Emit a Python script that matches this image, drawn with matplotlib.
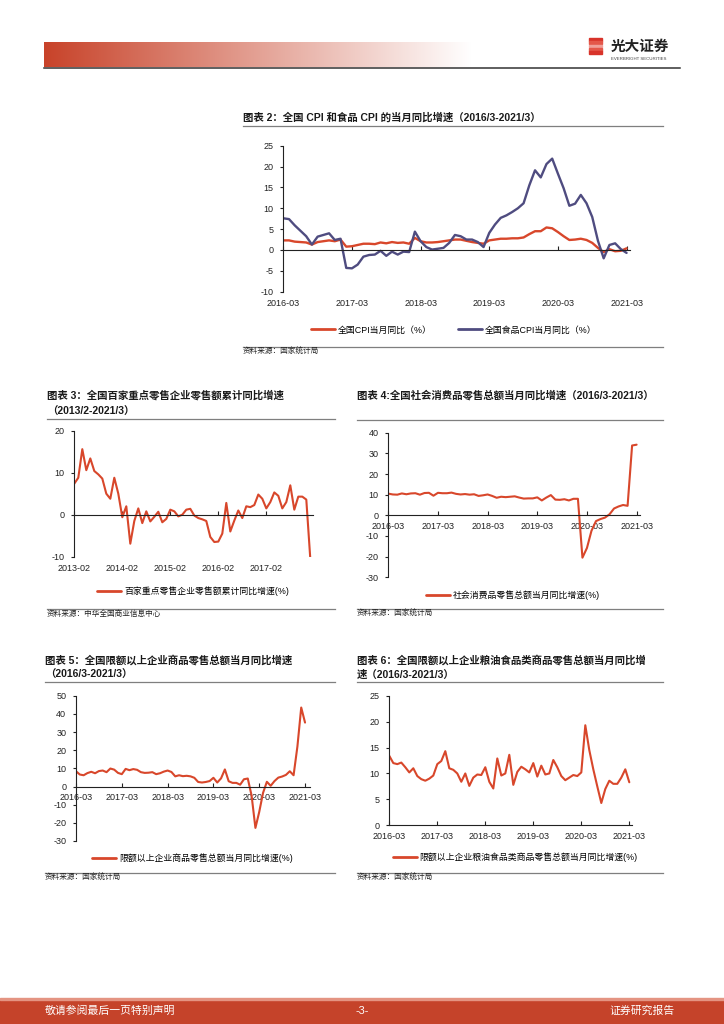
import numpy as np
import matplotlib.pyplot as plt
from matplotlib.patches import Rectangle

plt.rcParams['font.family'] = ['Liberation Sans', 'Noto Sans CJK SC']
plt.rcParams['axes.unicode_minus'] = False

W, H = 724, 1024
RED = '#D8472B'
PURPLE = '#4F4C80'
BAND = '#C5432A'

# ---- data ----
year_labels = ['2016-03', '2017-03', '2018-03', '2019-03', '2020-03', '2021-03']
labels_2013 = ['2013-02', '2014-02', '2015-02', '2016-02', '2017-02']

# 图表2: 2016/3-2021/3 monthly
cpi = [2.3, 2.3, 2.0, 1.9, 1.8, 1.3, 1.9, 2.1, 2.3, 2.1,
       2.5, 0.8, 0.9, 1.2, 1.5, 1.5, 1.4, 1.8, 1.6, 1.9, 1.7, 1.8,
       1.5, 2.9, 2.1, 1.8, 1.8, 1.9, 2.1, 2.3, 2.5, 2.5, 2.2, 1.9,
       1.7, 1.5, 2.3, 2.5, 2.7, 2.7, 2.8, 2.8, 3.0, 3.8, 4.5, 4.5,
       5.4, 5.2, 4.3, 3.3, 2.4, 2.5, 2.7, 2.4, 1.7, 0.5, -0.5, 0.2,
       -0.3, -0.2, 0.4]
food_cpi = [7.6, 7.4, 5.9, 4.6, 3.3, 1.3, 3.2, 3.6, 4.0, 2.4,
            2.7, -4.3, -4.4, -3.5, -1.6, -1.2, -1.1, -0.2, -1.4, -0.4, -1.1, -0.4,
            -0.5, 4.4, 2.1, 0.7, 0.1, 0.3, 0.5, 1.7, 3.6, 3.3, 2.5, 2.5,
            1.9, 0.7, 4.1, 6.1, 7.7, 8.3, 9.1, 10.0, 11.2, 15.5, 19.1, 17.4,
            20.6, 21.9, 18.3, 14.8, 10.6, 11.1, 13.2, 11.2, 7.9, 2.2, -2.0, 1.2,
            1.6, 0.2, -0.7]

# 图表3: 2013/2 起
top100 = [7.4, 8.8, 15.6, 10.6, 13.4, 10.4, 9.6, 8.6, 5.0, 3.8,
          8.8, 5.0, -0.6, 2.0, -6.9, -1.5, 1.5, -2.0, 0.8, -1.6,
          -0.5, 0.7, -1.8, -1.0, 1.2, 0.8, -0.4, 0.0, 1.2, 1.4,
          -0.2, -0.8, -1.1, -1.5, -5.3, -6.5, -6.4, -4.5, 2.8, -4.0,
          -1.4, 1.0, -0.8, 2.0, 1.8, 2.3, 4.8, 3.8, 1.5, 3.0,
          5.3, 4.5, 1.5, 3.0, 7.0, 1.2, 4.3, 4.3, 3.6, -10.5]

# 图表4: 社零当月同比 (no January)
retail = [10.5, 10.1, 10.0, 10.6, 10.2, 10.6, 10.7, 10.0, 10.8, 10.9,
          9.5, 10.9, 10.7, 10.7, 11.0, 10.4, 10.1, 10.3, 10.0, 10.2, 9.4,
          9.7, 10.1, 9.4, 8.5, 9.0, 8.8, 9.0, 9.2, 8.6, 8.1, 8.2,
          8.2, 8.7, 7.2, 8.6, 9.8, 7.6, 7.5, 7.8, 7.2, 8.0, 8.0,
          -20.5, -15.8, -7.5, -2.8, -1.8, -1.1, 0.5, 3.3, 4.3, 5.0, 4.6,
          33.8, 34.2]

# 图表5: 限额以上企业商品零售总额
above = [8.4, 6.6, 6.2, 7.4, 8.1, 7.3, 8.5, 8.8, 7.9, 9.9,
         9.3, 7.5, 6.8, 9.7, 9.0, 9.6, 9.2, 7.9, 7.5, 7.6,
         7.9, 6.8, 7.3, 8.2, 8.8, 8.0, 5.6, 6.2, 5.7, 5.9,
         5.6, 4.8, 2.5, 2.2, 2.5, 3.0, 4.8, 2.2, 4.5, 9.4,
         2.9, 2.0, 2.0, 1.0, 4.0, 4.4, -5.0, -22.8, -14.0, -3.5,
         2.6, 0.4, 3.0, 4.9, 5.5, 6.4, 8.4, 6.2, 22.0, 43.5, 35.2]

# 图表6: 限额以上粮油食品类
grain = [13.4, 12.0, 11.8, 12.1, 11.2, 10.2, 11.0, 9.5, 8.9, 8.6,
         9.0, 9.6, 11.8, 12.4, 14.3, 11.0, 10.7, 10.0, 8.4, 10.0,
         7.6, 9.2, 9.8, 9.7, 11.2, 8.4, 7.1, 12.9, 9.6, 10.0,
         13.6, 7.8, 10.3, 11.3, 10.8, 10.2, 12.0, 9.4, 11.5, 9.8,
         10.0, 12.6, 11.2, 9.5, 8.7, 9.2, 9.7, 9.5, 10.2, 19.3,
         14.5, 10.8, 7.5, 4.3, 7.0, 8.6, 8.0, 8.0, 9.2, 10.8, 8.3]

fig = plt.figure(figsize=(7.24, 10.24), dpi=100)


def box(x0, y0, x1, y1):
    return [x0 / W, 1 - y1 / H, (x1 - x0) / W, (y1 - y0) / H]


def txt(x, y, s, **kw):
    kw.setdefault('va', 'center')
    kw.setdefault('ha', 'left')
    fig.text(x / W, 1 - y / H, s, **kw)


def hline(x0, x1, y, color='#7f7f7f', lw=0.9):
    fig.add_artist(plt.Line2D([x0 / W, x1 / W], [1 - y / H, 1 - y / H],
                              color=color, lw=lw, transform=fig.transFigure))


def chart(rect, series, colors, xmax, ylim, yticks, xticks, xlabels, at_zero, lw=1.5):
    ax = fig.add_axes(box(*rect))
    for s, c in zip(series, colors):
        ax.plot(np.arange(len(s)), s, color=c, lw=lw,
                solid_joinstyle='round', solid_capstyle='round')
    ax.set_xlim(0, xmax)
    ax.set_ylim(*ylim)
    ax.set_yticks(yticks)
    ax.set_xticks(xticks)
    ax.patch.set_visible(False)
    for sp in ['top', 'right']:
        ax.spines[sp].set_visible(False)
    for sp in ['left', 'bottom']:
        ax.spines[sp].set_color('#222222')
        ax.spines[sp].set_linewidth(0.8)
    ax.spines['bottom'].set_position(('data', 0))
    ax.tick_params(axis='y', direction='out', length=2.5, width=0.8,
                   pad=4.5, labelsize=6.5, colors='#222222')
    ax.tick_params(axis='x', direction='in', length=3, width=0.8,
                   pad=5, labelsize=6.5, colors='#222222')
    if at_zero:
        ax.set_xticklabels(xlabels)
    else:
        ax.tick_params(axis='x', labelbottom=False)
        sec = ax.secondary_xaxis('bottom')
        sec.set_xticks(xticks)
        sec.set_xticklabels(xlabels)
        sec.tick_params(length=0, pad=5, labelsize=6.5, colors='#222222')
        sec.spines['bottom'].set_visible(False)
    return ax


def legend(ax, names, cx, cy, ncol=1):
    ax.legend(names, loc='center', bbox_to_anchor=(cx / W, 1 - cy / H),
              bbox_transform=fig.transFigure, frameon=False, fontsize=6.4,
              handlelength=2.7, handletextpad=0.3, ncol=ncol, columnspacing=3.0,
              borderpad=0, borderaxespad=0)
    for ln in ax.get_legend().get_lines():
        ln.set_linewidth(2.0)


# ---- header ----
hax = fig.add_axes(box(44, 42, 472, 67))
start = np.array([200, 67, 42]) / 255.0
t = np.linspace(0, 1, 300)[None, :, None]
grad = start[None, None, :] * (1 - t) + 1.0 * t
hax.imshow(grad, aspect='auto', extent=[0, 1, 0, 1])
hax.axis('off')
hline(44, 680, 68, color='#333333', lw=1.1)

# logo
stripe_colors = ['#D8332A', '#E4574A', '#F0A09A', '#E4574A', '#D8332A']
for i, c in enumerate(stripe_colors):
    y0 = 38 + i * 3.3
    fig.add_artist(Rectangle((589 / W, 1 - (y0 + 2.8) / H), 13 / W, 2.8 / H,
                             color=c, transform=fig.transFigure))
txt(611, 47, '光大证券', fontsize=10.5, fontweight='bold', color='#222222')
txt(611, 59, 'EVERBRIGHT SECURITIES', fontsize=3.2, color='#444444')

# ---- 图表2 ----
txt(243, 117, '图表 2：全国 CPI 和食品 CPI 的当月同比增速（2016/3-2021/3）',
    fontsize=7.5, fontweight='bold', color='#1a1a1a')
hline(243, 663, 125.5)
ax2 = chart((283.3, 145.7, 630, 291.7), [cpi, food_cpi], [RED, PURPLE], 60.6,
            (-10, 25), range(-10, 26, 5), range(0, 61, 12), year_labels, False, lw=1.7)
legend(ax2, ['全国CPI当月同比（%）', '全国食品CPI当月同比（%）'], 454, 330, ncol=2)
hline(243, 663, 346.5)
txt(243, 351.5, '资料来源：国家统计局', fontsize=5.5, color='#222222')

# ---- 图表3 ----
txt(47, 395, '图表 3：全国百家重点零售企业零售额累计同比增速',
    fontsize=7.5, fontweight='bold', color='#1a1a1a')
txt(47, 412, '（2013/2-2021/3）', fontsize=7.5, fontweight='bold', color='#1a1a1a')
hline(47, 335, 419)
ax3 = chart((74.3, 430.7, 312.7, 556.7), [top100], [RED], 59.6,
            (-10, 20), range(-10, 21, 10), range(0, 49, 12), labels_2013, False)
legend(ax3, ['百家重点零售企业零售额累计同比增速(%)'], 193, 591)
hline(47, 335, 609.3)
txt(47, 614.3, '资料来源：中华全国商业信息中心', fontsize=5.5, color='#222222')

# ---- 图表4 ----
txt(357, 395.7, '图表 4:全国社会消费品零售总额当月同比增速（2016/3-2021/3）',
    fontsize=7.5, fontweight='bold', color='#1a1a1a')
hline(357, 663, 420)
ax4 = chart((388.3, 432.7, 640, 577.3), [retail], [RED], 55.75,
            (-30, 40), range(-30, 41, 10), range(0, 56, 11), year_labels, True)
legend(ax4, ['社会消费品零售总额当月同比增速(%)'], 513, 595)
hline(357, 663, 609.3)
txt(357, 614.3, '资料来源：国家统计局', fontsize=5.5, color='#222222')

# ---- 图表5 ----
txt(45, 660, '图表 5：全国限额以上企业商品零售总额当月同比增速',
    fontsize=7.5, fontweight='bold', color='#1a1a1a')
txt(45, 675, '（2016/3-2021/3）', fontsize=7.5, fontweight='bold', color='#1a1a1a')
hline(45, 335, 682.3)
ax5 = chart((76, 695.7, 310, 841), [above], [RED], 61.3,
            (-30, 50), range(-30, 51, 10), range(0, 61, 12), year_labels, True)
legend(ax5, ['限额以上企业商品零售总额当月同比增速(%)'], 192.5, 858)
hline(45, 335, 872.7)
txt(45, 878.3, '资料来源：国家统计局', fontsize=5.5, color='#222222')

# ---- 图表6 ----
txt(357, 660, '图表 6：全国限额以上企业粮油食品类商品零售总额当月同比增',
    fontsize=7.5, fontweight='bold', color='#1a1a1a')
txt(357, 675, '速（2016/3-2021/3）', fontsize=7.5, fontweight='bold', color='#1a1a1a')
hline(357, 663, 682.3)
ax6 = chart((389.3, 695.7, 631.7, 825.3), [grain], [RED], 60.6,
            (0, 25), range(0, 26, 5), range(0, 61, 12), year_labels, True)
legend(ax6, ['限额以上企业粮油食品类商品零售总额当月同比增速(%)'], 515, 857)
hline(357, 663, 872.7)
txt(357, 878.3, '资料来源：国家统计局', fontsize=5.5, color='#222222')

# ---- footer ----
fig.add_artist(Rectangle((0, 0), 1, 25 / H, color=BAND, transform=fig.transFigure))
fig.add_artist(Rectangle((0, 24.5 / H), 1, 1.2 / H, color='#E49482', transform=fig.transFigure))
txt(45, 1011, '敬请参阅最后一页特别声明', fontsize=7.8, color='white')
txt(362, 1011, '-3-', fontsize=7.8, color='white', ha='center')
txt(609, 1011, '证券研究报告', fontsize=7.8, color='white')

fig.savefig('out.png', dpi=100)
